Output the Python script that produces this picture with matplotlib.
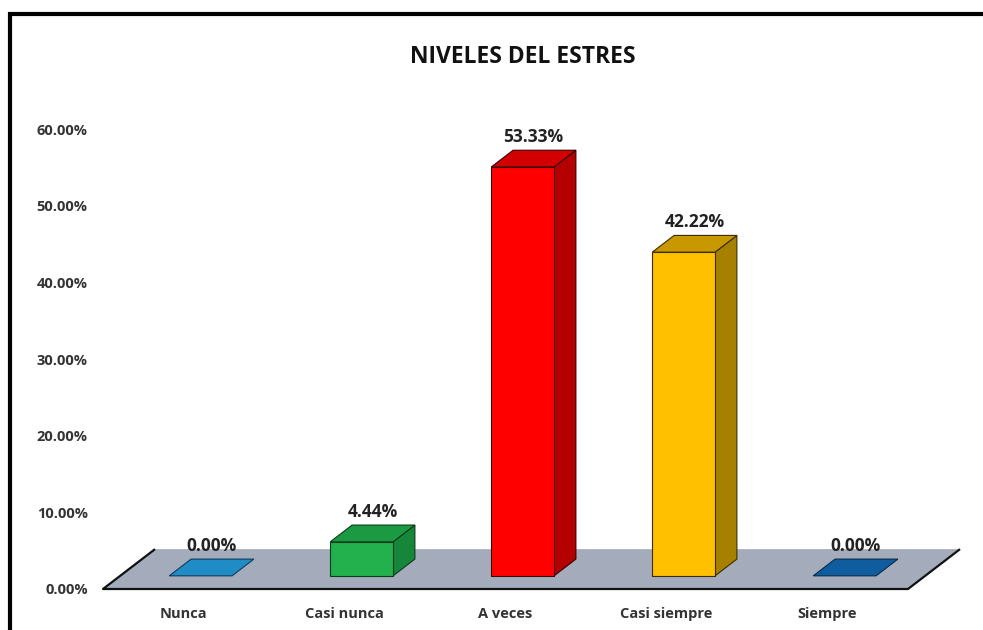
import matplotlib
matplotlib.use("Agg")
import matplotlib.pyplot as plt
from matplotlib.patches import Polygon, Rectangle

categories = ['Nunca', 'Casi nunca', 'A veces', 'Casi siempre', 'Siempre']
values = [0.00, 4.44, 53.33, 42.22, 0.00]
value_labels = ['0.00%', '4.44%', '53.33%', '42.22%', '0.00%']
yticks = [0, 10, 20, 30, 40, 50, 60]

front_colors = ['#1f8cc6', '#22b14c', '#ff0000', '#ffc000', '#0f5c9e']
side_colors = ['#1a6f9e', '#16863a', '#b40000', '#a88000', '#0b4678']
top_colors = ['#1f8cc6', '#1c9a43', '#d20000', '#c89800', '#0f5c9e']
edge_colors = ['#0d3b5c', '#0a3d18', '#3a0000', '#3a2c00', '#062b4a']

# fake 3d: full floor depth expressed in data units
DX = 0.323
DY = 5.2
BAR_W = 0.39
D0, D1 = 0.33, 0.75


def proj(x, y, d):
    return (x + d * DX, y + d * DY)


fig = plt.figure(figsize=(9.83, 6.3), dpi=100)
ax = fig.add_axes([103 / 983, 41 / 630, 857 / 983, 460 / 630])
ax.set_xlim(-0.5, len(categories) - 0.5 + DX)
ax.set_ylim(0, 60)
for s in ax.spines.values():
    s.set_visible(False)

# floor
n = len(categories)
floor = [proj(-0.5, 0, 0), proj(n - 0.5, 0, 0), proj(n - 0.5, 0, 1), proj(-0.5, 0, 1)]
ax.add_patch(Polygon(floor, closed=True, facecolor='#a4acbc', edgecolor='none', zorder=1))
ax.plot([floor[3][0], floor[0][0], floor[1][0], floor[2][0]],
        [floor[3][1], floor[0][1], floor[1][1], floor[2][1]],
        color='#111111', lw=1.6, clip_on=False, zorder=2, solid_capstyle='butt')

for i, v in enumerate(values):
    x0, x1 = i - BAR_W / 2, i + BAR_W / 2
    top = [proj(x0, v, D0), proj(x1, v, D0), proj(x1, v, D1), proj(x0, v, D1)]
    if v > 0:
        front = [proj(x0, 0, D0), proj(x1, 0, D0), proj(x1, v, D0), proj(x0, v, D0)]
        side = [proj(x1, 0, D0), proj(x1, 0, D1), proj(x1, v, D1), proj(x1, v, D0)]
        ax.add_patch(Polygon(side, closed=True, facecolor=side_colors[i],
                             edgecolor=edge_colors[i], lw=0.8, zorder=3, clip_on=False))
        ax.add_patch(Polygon(front, closed=True, facecolor=front_colors[i],
                             edgecolor=edge_colors[i], lw=0.8, zorder=4, clip_on=False))
    ax.add_patch(Polygon(top, closed=True, facecolor=top_colors[i],
                         edgecolor=edge_colors[i], lw=0.8, zorder=4, clip_on=False))
    lx, ly = proj(i, v, (D0 + D1) / 2)
    ax.annotate(value_labels[i], (lx, proj(i, v, D1)[1]), xytext=(0, 3),
                textcoords='offset points', ha='center', va='bottom',
                fontsize=12.5, fontweight='bold', color='#222222',
                family='Open Sans', annotation_clip=False, zorder=6)

ax.set_yticks(yticks)
ax.set_yticklabels(['%.2f%%' % t for t in yticks], fontsize=10.5,
                   fontweight='bold', color='#333333', family='Open Sans')
ax.set_xticks(range(n))
ax.set_xticklabels(categories, fontsize=10.5, fontweight='bold',
                   color='#333333', family='Open Sans')
ax.tick_params(axis='y', length=0, pad=11)
ax.tick_params(axis='x', length=0, pad=13)

fig.text(523 / 983, 1 - 57 / 630, 'NIVELES DEL ESTRES', ha='center', va='center',
         fontsize=16.5, fontweight='bold', color='#111111', family='Open Sans')

# outer frame (right and bottom edges are cut off in the source)
fig.patches.append(Rectangle((10 / 983, -0.1), 1.2, 1 - 13.5 / 630 + 0.1,
                             transform=fig.transFigure, fill=False,
                             edgecolor='black', lw=3))

fig.savefig('out.png', dpi=100)
